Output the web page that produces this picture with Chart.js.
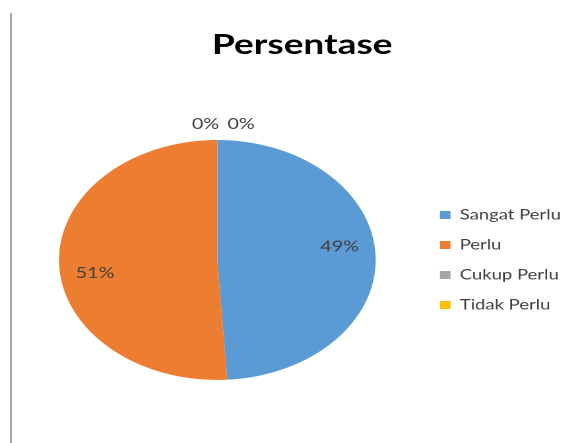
<!DOCTYPE html>
<html>
<head>
<meta charset="utf-8">
<script src="https://cdn.jsdelivr.net/npm/chart.js@4.4.0/dist/chart.umd.min.js"></script>
<style>
  body { margin: 0; background: #fff; }
  #wrap { position: relative; width: 582px; height: 443px; overflow: hidden; }
  #pie { position: absolute; left: 0; top: 0; }
  #edge { position: absolute; left: 10px; top: 13px; width: 2px; height: 430px; background: #a6a6a6; }
</style>
</head>
<body>
<div id="wrap">
  <!-- the original picture is stretched sideways, so the canvas is drawn narrow and stretched (inline style so chart.js keeps it) -->
  <canvas id="pie" width="441" height="443" style="width:582px;height:443px"></canvas>
  <div id="edge"></div>
</div>
<script>
// data
const chartTitle = "Persentase";
const categories = ["Sangat Perlu", "Perlu", "Cukup Perlu", "Tidak Perlu"];
const percentValues = [49, 51, 0, 0];
const sliceColors = ["#5B9BD5", "#ED7D31", "#A5A5A5", "#FFC000"];

// little plugin: title + percent labels like excel does them
const excelLabels = {
  id: "excelLabels",
  afterDatasetsDraw(chart) {
    const ctx = chart.ctx;
    const arcs = chart.getDatasetMeta(0).data;
    const total = percentValues.reduce((a, b) => a + b, 0);
    let zeroCount = 0;
    ctx.save();
    ctx.font = "15px Lato";
    ctx.fillStyle = "#404040";
    ctx.textAlign = "center";
    ctx.textBaseline = "middle";
    arcs.forEach((arc, i) => {
      const p = arc.getProps(["x", "y", "startAngle", "endAngle", "outerRadius"], true);
      const txt = Math.round(percentValues[i] / total * 100) + "%";
      if (percentValues[i] === 0) {
        // zero slices sit at the top, labels put outside next to each other
        ctx.fillText(txt, p.x + 4.5 + (zeroCount - 0.5) * 27, p.y - p.outerRadius - 16);
        zeroCount++;
      } else {
        const a = (p.startAngle + p.endAngle) / 2 - 0.11;
        const r = p.outerRadius * 0.78;
        ctx.fillText(txt, p.x + Math.cos(a) * r, p.y + Math.sin(a) * r);
      }
    });
    ctx.restore();
  },
  afterDraw(chart) {
    const ctx = chart.ctx;
    ctx.save();
    ctx.font = "bold 28px Lato";
    ctx.fillStyle = "#000";
    ctx.textAlign = "center";
    ctx.textBaseline = "alphabetic";
    ctx.fillText(chartTitle, 229, 54);
    ctx.restore();
  }
};

const ctx = document.getElementById("pie").getContext("2d");
const myChart = new Chart(ctx, {
  type: "pie",
  data: {
    labels: categories,
    datasets: [
      {
        data: percentValues,
        backgroundColor: sliceColors,
        borderWidth: 0,
      },
    ],
  },
  options: {
    responsive: false,
    devicePixelRatio: 2,
    animation: false,
    layout: {
      padding: { left: 12, right: 6, top: 140, bottom: 63 },
    },
    plugins: {
      legend: {
        position: "right",
        labels: {
          boxWidth: 8,
          boxHeight: 8,
          padding: 16,
          color: "#404040",
          font: { family: "Lato", size: 14 },
        },
      },
      tooltip: { enabled: false },
    },
  },
  plugins: [excelLabels],
});
</script>
</body>
</html>
